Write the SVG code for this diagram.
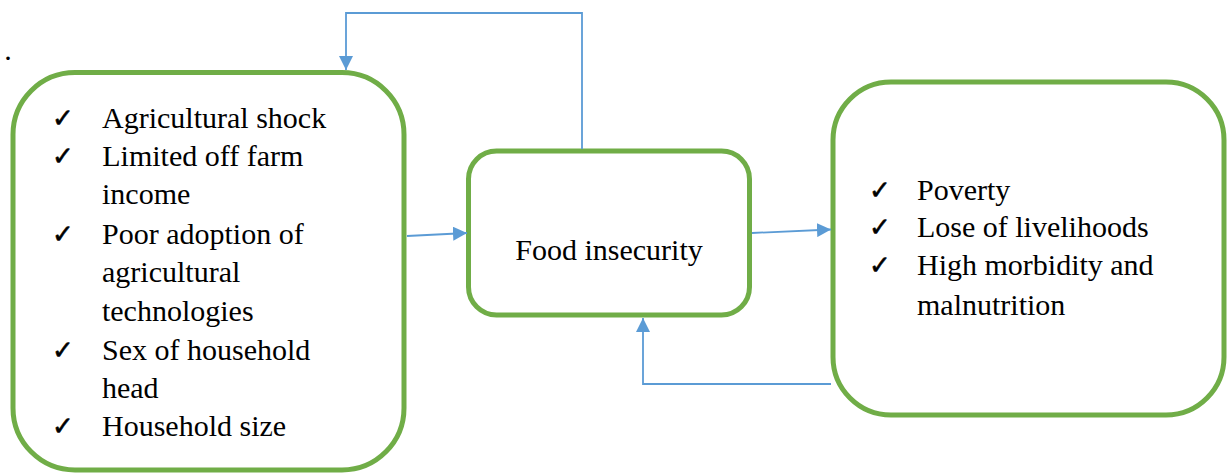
<svg xmlns="http://www.w3.org/2000/svg" width="1228" height="475" viewBox="0 0 1228 475">
<defs>
<marker id="ah" viewBox="0 0 10 10" refX="10" refY="5" markerWidth="14" markerHeight="14" markerUnits="userSpaceOnUse" orient="auto">
<path d="M0,0 L10,5 L0,10 Z" fill="#5B9BD5"/>
</marker>
</defs>
<rect width="1228" height="475" fill="#fff"/>
<text font-family="'Liberation Serif', 'Times New Roman', serif" font-size="30" x="8" y="60" text-anchor="middle">.</text>
<g id="causes" font-family="'Liberation Serif', 'Times New Roman', serif" fill="#000">
<rect fill="#fff" stroke="#70AD47" stroke-width="5" x="13" y="72.5" width="391" height="397.5" rx="62" ry="62"/>
<g font-size="30" text-anchor="middle">
<text x="214.1" y="128">Agricultural shock</text>
<text x="202.8" y="166">Limited off farm</text>
<text x="146.2" y="204">income</text>
<text x="202.8" y="244">Poor adoption of</text>
<text x="171.2" y="282">agricultural</text>
<text x="177.8" y="321">technologies</text>
<text x="206.2" y="360">Sex of household</text>
<text x="130.3" y="398">head</text>
<text x="194.1" y="436">Household size</text>
</g>
<g font-size="26" stroke="#000" stroke-width="0.6" text-anchor="middle">
<text x="63" y="127">✓</text>
<text x="63" y="165">✓</text>
<text x="63" y="243">✓</text>
<text x="63" y="359">✓</text>
<text x="63" y="435">✓</text>
</g>
</g>
<g id="food">
<rect fill="#fff" stroke="#70AD47" stroke-width="5" x="468.5" y="151" width="281" height="164" rx="28" ry="28"/>
<text font-family="'Liberation Serif', 'Times New Roman', serif" font-size="30" fill="#000" x="609" y="260" text-anchor="middle">Food insecurity</text>
</g>
<g id="effects" font-family="'Liberation Serif', 'Times New Roman', serif" fill="#000">
<rect fill="#fff" stroke="#70AD47" stroke-width="5" x="833" y="82" width="391" height="333" rx="58" ry="58"/>
<g font-size="30" text-anchor="middle">
<text x="963.7" y="200">Poverty</text>
<text x="1032.8" y="237">Lose of livelihoods</text>
<text x="1035.3" y="275">High morbidity and</text>
<text x="991.2" y="315">malnutrition</text>
</g>
<g font-size="26" stroke="#000" stroke-width="0.6" text-anchor="middle">
<text x="880" y="199">✓</text>
<text x="880" y="236">✓</text>
<text x="880" y="274">✓</text>
</g>
</g>
<g id="connectors" fill="none" stroke="#5B9BD5" stroke-width="1.8">
<polyline points="582,149 582,13 346,13 346,70" marker-end="url(#ah)"/>
<line x1="407" y1="236" x2="467" y2="233" marker-end="url(#ah)"/>
<line x1="752" y1="233" x2="831" y2="229.5" marker-end="url(#ah)"/>
<polyline points="831,384 643,384 643,318" marker-end="url(#ah)"/>
</g>
</svg>
